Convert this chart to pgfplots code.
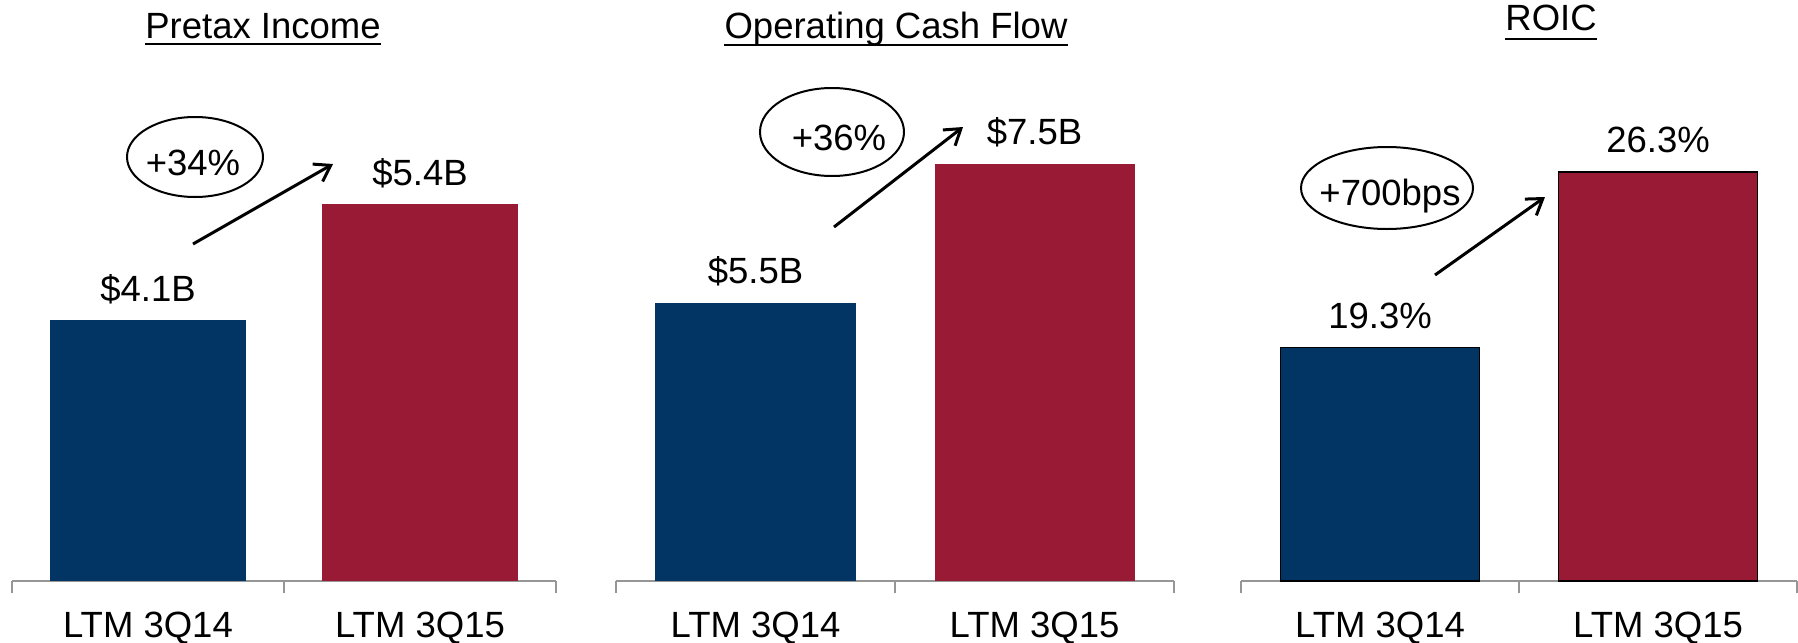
\documentclass[border=0pt]{standalone}
\usepackage{fontspec}
\setmainfont{Liberation Sans}
\usepackage{pgfplots}
\pgfplotsset{compat=1.18}
\usetikzlibrary{arrows.meta}
\definecolor{navy}{RGB}{2,52,100}
\definecolor{crim}{RGB}{153,26,52}
\definecolor{axgray}{RGB}{150,150,150}
\newcommand\lab{\fontsize{14.6pt}{17pt}\selectfont}
\pgfplotsset{
  panel/.style={
    scale only axis, height=192.4pt,
    xmin=-0.5, xmax=1.5,
    axis x line*=bottom, axis y line=none,
    x axis line style={draw=axgray, line width=0.8pt},
    xtick={-0.5,0.5,1.5}, xticklabels={},
    xtick align=outside, major tick length=4.6pt,
    xtick style={draw=axgray, line width=0.8pt},
    extra x ticks={0,1},
    extra x tick labels={LTM 3Q14,LTM 3Q15},
    extra x tick style={major tick length=0pt, tick style={draw=none},
      xticklabel style={anchor=base, yshift=-22.4pt, font=\lab}},
    ybar, bar width=0.717, bar shift=0pt,
    clip=false,
    nodes near coords, point meta=explicit symbolic,
    nodes near coords style={anchor=base, yshift=7.6pt, font=\lab, inner sep=0pt},
  }
}
\begin{document}
\begin{tikzpicture}[x=0.4pt, y=0.4pt, font=\lab]
\useasboundingbox (0,0) rectangle (1798,642);
% Panel 1: Pretax Income
\begin{axis}[panel, width=217.6pt, at={(4.8pt,24.4pt)}, anchor=south west,
  ymin=1.17, ymax=6.57]
\addplot[fill=navy, draw=none] coordinates {(0,4.1) [\$4.1B]};
\addplot[fill=crim, draw=none] coordinates {(1,5.4) [\$5.4B]};
\end{axis}
% Panel 2: Operating Cash Flow
\begin{axis}[panel, width=223.2pt, at={(246.4pt,24.4pt)}, anchor=south west,
  ymin=1.5, ymax=8.42]
\addplot[fill=navy, draw=none] coordinates {(0,5.5) [\$5.5B]};
\addplot[fill=crim, draw=none] coordinates {(1,7.5) [\$7.5B]};
\end{axis}
% Panel 3: ROIC
\begin{axis}[panel, width=222.4pt, at={(496.4pt,24.4pt)}, anchor=south west,
  ymin=10, ymax=29.16]
\addplot[fill=navy, draw=black, line width=0.5pt] coordinates {(0,19.3) [19.3\%]};
\addplot[fill=crim, draw=black, line width=0.6pt] coordinates {(1,26.3) [26.3\%]};
\end{axis}
% Titles
\node[anchor=base, inner sep=0pt] (t1) at (263,642-38) {Pretax Income};
\draw[line width=1.1pt] ([yshift=-2.4pt]t1.base west) -- ([yshift=-2.4pt]t1.base east);
\node[anchor=base, inner sep=0pt] (t2) at (896,642-38) {Operating Cash Flow};
\draw[line width=1.1pt] ([yshift=-2.8pt]t2.base west) -- ([yshift=-2.8pt]t2.base east);
\node[anchor=base, inner sep=0pt] (t3) at (1551,642-30) {ROIC};
\draw[line width=1.1pt] ([yshift=-3.6pt]t3.base west) -- ([yshift=-3.6pt]t3.base east);
% Change annotations
\draw[line width=0.8pt] (195,642-157) ellipse [x radius=27.2pt, y radius=16pt];
\node[anchor=base, inner sep=0pt] at (193,642-175) {+34\%};
\draw[line width=1.2pt, -{Straight Barb[length=6pt, width=8pt]}] (193,642-244) -- (333,642-164);
\draw[line width=0.8pt] (832,642-132) ellipse [x radius=28.8pt, y radius=17.6pt];
\node[anchor=base, inner sep=0pt] at (839,642-150) {+36\%};
\draw[line width=1.2pt, -{Straight Barb[length=6pt, width=8pt]}] (834,642-227) -- (963,642-127);
\draw[line width=0.8pt] (1387,642-188) ellipse [x radius=34.4pt, y radius=16.4pt];
\node[anchor=base, inner sep=0pt] at (1390,642-205) {+700bps};
\draw[line width=1.2pt, -{Straight Barb[length=6pt, width=8pt]}] (1435,642-275) -- (1545,642-197);
\end{tikzpicture}
\end{document}
